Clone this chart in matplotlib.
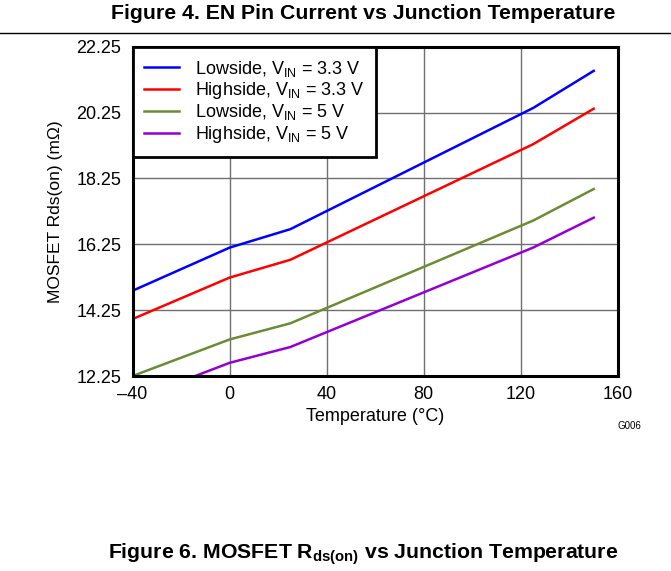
import matplotlib
matplotlib.use("Agg")
import matplotlib.pyplot as plt
from matplotlib.lines import Line2D

plt.rcParams["font.family"] = ["Liberation Sans", "DejaVu Sans"]
plt.rcParams["mathtext.fontset"] = "custom"
plt.rcParams["mathtext.rm"] = "Liberation Sans"
plt.rcParams["mathtext.it"] = "Liberation Sans:italic"
plt.rcParams["mathtext.bf"] = "Liberation Sans:bold"

# data
temp_c = [-40, 0, 25, 125, 150]
low_33 = [14.84, 16.15, 16.71, 20.39, 21.52]
high_33 = [13.98, 15.24, 15.78, 19.29, 20.37]
low_5 = [12.25, 13.36, 13.85, 16.97, 17.93]
high_5 = [11.52, 12.65, 13.13, 16.15, 17.06]

series_labels = [
    r"Lowside, V$_{\mathrm{IN}}$ = 3.3 V",
    r"Highside, V$_{\mathrm{IN}}$ = 3.3 V",
    r"Lowside, V$_{\mathrm{IN}}$ = 5 V",
    r"Highside, V$_{\mathrm{IN}}$ = 5 V",
]
series_colors = ["#0000ff", "#ff0000", "#6b8c35", "#9400d3"]

xticks = [-40, 0, 40, 80, 120, 160]
xtick_labels = ["\u201340", "0", "40", "80", "120", "160"]
yticks = [12.25, 14.25, 16.25, 18.25, 20.25, 22.25]
ytick_labels = ["12.25", "14.25", "16.25", "18.25", "20.25", "22.25"]

# %%
fig = plt.figure(figsize=(6.71, 5.71), dpi=100)
ax = fig.add_axes([0.1975, 0.3415, 0.7235, 0.5765])

for yvals, lab, col in zip([low_33, high_33, low_5, high_5], series_labels, series_colors):
    ax.plot(temp_c, yvals, color=col, linewidth=1.8, label=lab, zorder=3)

ax.set_xlim(-40, 160)
ax.set_ylim(12.25, 22.25)
ax.set_xticks(xticks)
ax.set_xticklabels(xtick_labels)
ax.set_yticks(yticks)
ax.set_yticklabels(ytick_labels)
ax.tick_params(axis="both", length=0, labelsize=13)
ax.tick_params(axis="x", pad=7)
ax.tick_params(axis="y", pad=8)
ax.grid(True, color="#707070", linewidth=1.0)
ax.set_axisbelow(True)
for spine in ax.spines.values():
    spine.set_linewidth(2.2)
    spine.set_color("black")
    spine.set_zorder(5)

ax.set_xlabel("Temperature (\u00b0C)", fontsize=13, labelpad=4)
ax.set_ylabel("MOSFET Rds(on) (m\u03a9)", fontsize=12.5, labelpad=10)

leg = ax.legend(
    loc="upper left",
    bbox_to_anchor=(0, 1),
    borderaxespad=0,
    fontsize=13,
    frameon=True,
    fancybox=False,
    edgecolor="black",
    framealpha=1,
    handlelength=1.9,
    handletextpad=0.9,
    labelspacing=0.08,
    borderpad=0.65,
)
leg.get_frame().set_linewidth(2.0)
leg.set_zorder(6)

# page decorations
fig.text(0.541, 0.976, "Figure 4. EN Pin Current vs Junction Temperature",
         ha="center", va="center", fontsize=15.3, fontweight="bold")
fig.add_artist(Line2D([0, 1], [0.942, 0.942], color="black", linewidth=1.0))
fig.text(0.938, 0.2545, "G006", ha="center", va="center", fontsize=7)
fig.text(0.541, 0.029, r"Figure 6. MOSFET R$_{\mathbf{ds(on)}}$ vs Junction Temperature",
         ha="center", va="center", fontsize=15.3, fontweight="bold")

fig.savefig("out.png", dpi=100)
